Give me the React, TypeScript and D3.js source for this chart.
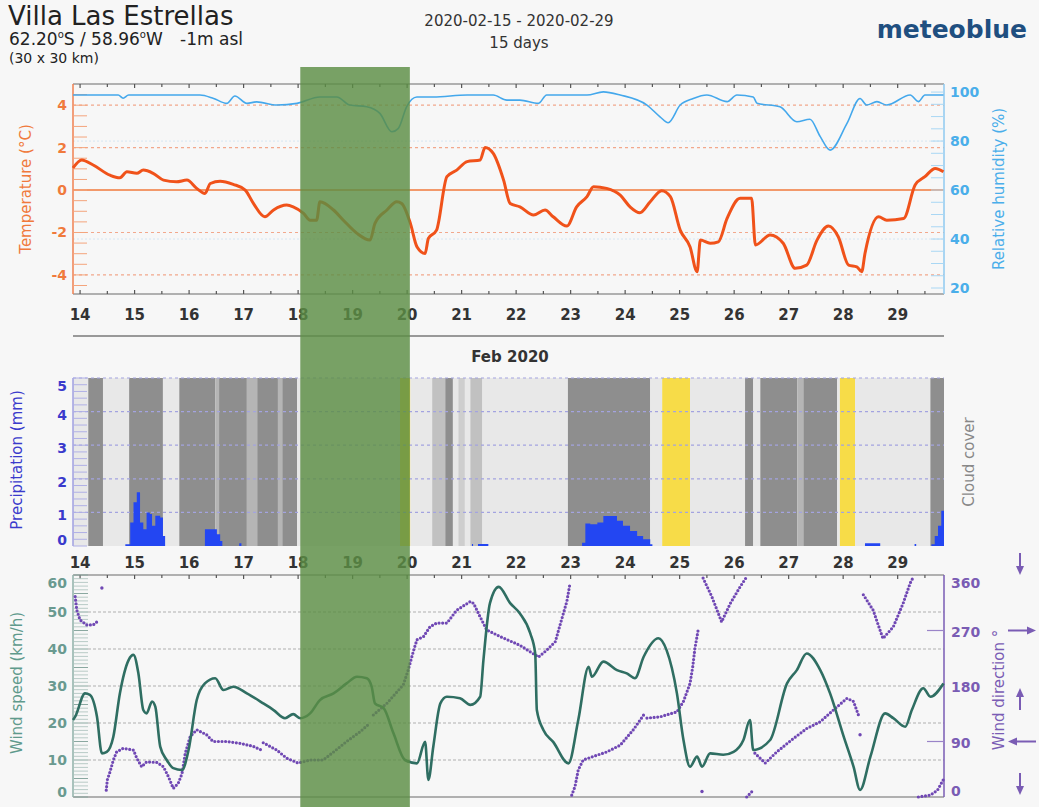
import React from 'react';
import * as d3 from 'd3';

// days of Feb 2020 (fractional)
const dayLabels = d3.range(14, 30);
const xDomain = [13.87, 29.85];

const tempDays = [13.87, 14.03, 14.24, 14.55, 14.73, 14.86, 15.04, 15.16, 15.34, 15.53, 15.77, 15.96, 16.14, 16.29, 16.39, 16.57, 16.81, 17.03, 17.18, 17.39, 17.55, 17.79, 17.91, 18.1, 18.22, 18.34, 18.4, 18.65, 18.83, 19.08, 19.32, 19.41, 19.63, 19.81, 19.9, 20.06, 20.18, 20.33, 20.39, 20.54, 20.73, 20.91, 21.1, 21.34, 21.43, 21.58, 21.77, 21.89, 22.07, 22.32, 22.53, 22.68, 22.93, 23.11, 23.3, 23.42, 23.66, 23.91, 24.09, 24.27, 24.46, 24.67, 24.83, 25.01, 25.19, 25.32, 25.38, 25.56, 25.71, 25.87, 26.11, 26.32, 26.39, 26.66, 26.9, 27.12, 27.33, 27.52, 27.73, 27.91, 28.1, 28.25, 28.34, 28.4, 28.65, 28.8, 29.11, 29.32, 29.5, 29.69, 29.84];
const tempC = [1.04, 1.42, 1.18, 0.7, 0.58, 0.86, 0.79, 0.94, 0.79, 0.47, 0.39, 0.47, 0.08, -0.16, 0.31, 0.42, 0.27, 0, -0.63, -1.26, -0.94, -0.71, -0.79, -1.1, -1.42, -1.42, -0.55, -0.94, -1.42, -2.04, -2.36, -1.57, -0.94, -0.55, -0.63, -1.57, -2.67, -2.99, -2.28, -1.89, 0.63, 0.94, 1.34, 1.42, 2.01, 1.73, 0.47, -0.63, -0.79, -1.18, -0.94, -1.26, -1.7, -0.79, -0.31, 0.16, 0.08, -0.24, -0.79, -1.07, -0.55, -0.03, -0.31, -1.89, -2.67, -3.85, -2.36, -2.51, -2.44, -1.34, -0.39, -0.39, -2.59, -2.12, -2.51, -3.69, -3.54, -2.36, -1.7, -2.2, -3.54, -3.62, -3.85, -2.99, -1.26, -1.42, -1.34, 0.24, 0.63, 1.02, 0.86];

const humDays = [13.87, 14.06, 14.7, 14.79, 14.89, 16.2, 16.45, 16.69, 16.84, 17.06, 17.24, 17.61, 17.98, 18.4, 18.71, 18.95, 19.26, 19.5, 19.72, 19.84, 19.99, 20.18, 20.48, 21.1, 21.58, 21.83, 22.07, 22.41, 22.56, 23.3, 23.6, 23.91, 24.4, 24.64, 24.79, 25.01, 25.25, 25.5, 25.87, 26.05, 26.35, 26.42, 26.84, 27.15, 27.39, 27.58, 27.76, 28.07, 28.31, 28.43, 28.62, 28.8, 29.23, 29.38, 29.5, 29.84];
const humPct = [98.8, 98.8, 98.8, 97.5, 98.8, 98.8, 97.4, 95.4, 98.4, 95.4, 96, 94.7, 95.4, 98, 98, 94.7, 94, 91.3, 83.8, 85.2, 94, 98, 98, 98.8, 98.8, 96.7, 96.7, 95.4, 98.8, 98.8, 100.1, 98.8, 94.7, 89.9, 87.5, 94.7, 97.4, 98.8, 96.1, 98.8, 98, 95.4, 94, 87.9, 88.9, 81.8, 76.3, 87.2, 97.4, 94.7, 96.1, 94.7, 98.8, 96.1, 98.8, 98.8];

const precipDays = [14.8, 14.83, 14.92, 14.98, 15.04, 15.1, 15.16, 15.22, 15.28, 15.32, 15.38, 15.47, 15.52, 15.56, 16.29, 16.44, 16.51, 16.57, 16.61, 16.92, 16.96, 21.19, 21.21, 21.3, 21.49, 23.21, 23.27, 23.36, 23.49, 23.6, 23.72, 23.85, 23.96, 24.09, 24.22, 24.33, 24.46, 24.5, 28.4, 28.68, 29.31, 29.34, 29.62, 29.68, 29.74, 29.8, 29.85];
const precipMm = [0, 0.05, 0.7, 1.3, 1.6, 0.7, 0.5, 1.0, 0.95, 0.6, 0.9, 0.85, 0.3, 0, 0.5, 0.5, 0.35, 0.15, 0, 0.08, 0, 0.06, 0, 0.06, 0, 0.1, 0.67, 0.65, 0.7, 0.89, 0.89, 0.75, 0.6, 0.45, 0.3, 0.2, 0.05, 0, 0.08, 0, 0.06, 0, 0.05, 0.3, 0.6, 1.05, 1.1];

// cloud cover bands (0 = sunny)
const cloudStart = [13.87, 14.15, 14.42, 14.9, 15.52, 15.82, 16.48, 16.55, 17.06, 17.25, 17.63, 17.71, 17.98, 19.87, 20.06, 20.46, 20.7, 20.84, 20.94, 21.06, 21.16, 21.38, 22.95, 24.46, 24.68, 25.19, 26.2, 26.35, 26.48, 27.16, 27.27, 27.89, 27.94, 28.22, 29.6];
const cloudEnd = [14.15, 14.42, 14.9, 15.52, 15.82, 16.48, 16.55, 17.06, 17.25, 17.63, 17.71, 17.98, 19.87, 20.06, 20.46, 20.7, 20.84, 20.94, 21.06, 21.16, 21.38, 22.95, 24.46, 24.68, 25.19, 26.2, 26.35, 26.48, 27.16, 27.27, 27.89, 27.94, 28.22, 29.6, 29.85];
const cloudPct = [30, 100, 30, 100, 30, 100, 70, 100, 70, 100, 70, 100, 30, 0, 30, 60, 100, 30, 50, 30, 60, 30, 100, 30, 0, 30, 100, 30, 100, 70, 100, 30, 0, 30, 100];

const speedDays = [13.87, 13.91, 14.09, 14.18, 14.31, 14.4, 14.49, 14.61, 14.73, 14.89, 14.98, 15.07, 15.16, 15.22, 15.32, 15.38, 15.47, 15.59, 15.71, 15.87, 15.99, 16.14, 16.29, 16.48, 16.63, 16.81, 17.06, 17.36, 17.55, 17.76, 17.91, 18.04, 18.22, 18.4, 18.65, 18.89, 19.08, 19.26, 19.35, 19.41, 19.57, 19.75, 19.96, 20.18, 20.33, 20.39, 20.48, 20.61, 20.73, 20.97, 21.16, 21.34, 21.4, 21.52, 21.68, 21.89, 22.07, 22.26, 22.35, 22.38, 22.5, 22.68, 22.96, 23.14, 23.33, 23.39, 23.6, 23.85, 24.03, 24.18, 24.34, 24.61, 24.76, 24.95, 25.07, 25.19, 25.32, 25.41, 25.56, 25.8, 25.99, 26.17, 26.29, 26.35, 26.66, 26.97, 27.15, 27.33, 27.58, 27.76, 28.01, 28.19, 28.31, 28.5, 28.77, 28.92, 29.14, 29.26, 29.47, 29.6, 29.84];
const speedKmh = [20.8, 21.7, 28, 27.6, 21.7, 11.8, 12.2, 16.3, 28, 37, 38.4, 33.4, 23.5, 22.6, 25.8, 24.4, 13.6, 10, 7.8, 7.3, 12.7, 26.2, 30.7, 32.1, 28.9, 29.8, 28, 25.3, 23.5, 21.3, 22.4, 21.3, 22.6, 26.2, 28, 30.7, 32.5, 32.1, 29.8, 25.3, 24, 17.2, 10, 9.1, 14.9, 4.6, 13.6, 25.3, 27.1, 26.7, 24.9, 27.1, 37, 52.4, 56.8, 52.4, 49.6, 44.2, 38.8, 23.5, 18.1, 14.9, 9.1, 20.8, 35.2, 32.5, 36.6, 34.3, 33.4, 32.1, 37.9, 42.9, 39.7, 28, 15.4, 8.2, 10.9, 8.2, 11.8, 11.4, 12.2, 15.4, 20.8, 12.7, 15.4, 30.7, 34.3, 38.8, 34.3, 28, 16.3, 8.2, 1.9, 10.9, 22.6, 21.3, 19, 23.5, 29.4, 27.1, 30.7];

// wind direction, null = break in the dotted trace
const dirDays = [13.91, 13.94, 14.0, 14.12, 14.24, 14.35, null,
  14.48, 14.5, 14.55, 14.61, 14.67, 14.79, 14.98, 15.04, 15.13, 15.22, 15.41, 15.53, 15.62, 15.71, 15.8, 15.87, 15.93, 16.02, 16.14, 16.32, 16.44, 16.69, 16.94, 17.18, 17.33, null,
  17.36, 17.61, 17.79, 18.0, 18.22, 18.46, 18.65, 18.89, 19.14, 19.32, null,
  19.38, 19.63, 19.93, 20.02, 20.12, 20.18, 20.3, 20.42, 20.54, 20.73, 20.91, 21.16, 21.22, 21.34, 21.46, 21.71, 22.07, 22.41, 22.56, 22.72, 22.78, 22.93, 22.99, null,
  23.02, 23.08, 23.14, 23.23, 23.39, 23.66, 23.91, 24.15, 24.34, null,
  24.4, 24.64, 24.95, 25.07, 25.19, 25.24, 25.28, 25.34, null,
  25.43, 25.59, 25.77, 25.93, 26.11, 26.23, null,
  26.23, 26.35, null,
  26.38, 26.57, 26.78, 27.09, 27.33, 27.58, 27.82, 28.07, 28.19, 28.28, null,
  28.37, 28.55, 28.73, 28.92, 29.1, 29.23, 29.29, null,
  29.38, 29.6, 29.73, 29.85];
const dirDeg = [325, 303, 287, 279, 279, 287, null,
  11, 28, 41, 60, 73, 79, 76, 63, 49, 57, 56, 49, 33, 14, 22, 38, 71, 98, 109, 101, 90, 90, 87, 82, 76, null,
  88, 76, 63, 55, 60, 60, 73, 90, 106, 120, null,
  133, 152, 182, 206, 238, 255, 260, 276, 282, 282, 303, 317, 314, 292, 271, 260, 246, 227, 238, 252, 271, 317, 347, null,
  3, 17, 44, 60, 65, 73, 84, 109, 133, null,
  128, 130, 138, 155, 184, 211, 241, 271, null,
  355, 325, 284, 314, 341, 357, null,
  0, 11, null,
  71, 55, 73, 95, 111, 122, 141, 160, 155, 133, null,
  328, 303, 257, 276, 314, 347, 357, null,
  0, 3, 11, 30];
const dirDotDays = [14.4, 25.41, 28.31];
const dirDotDeg = [339, 9, 101];

const compassDeg = [360, 270, 180, 90, 0];
const highlight = [18.04, 20.05];

const FONT = 'DejaVu Sans, sans-serif';

const App: React.FC = () => {
  const x = d3.scaleLinear().domain(xDomain).range([73, 944]);
  const yTemp = d3.scaleLinear().domain([-4.9, 5.0]).range([294, 84]);
  const yHum = d3.scaleLinear().domain([17.55, 103.3]).range([294, 84]);
  const yPrec = d3.scaleLinear().domain([0, 5]).range([546, 378]);
  const ySpeed = d3.scaleLinear().domain([0, 60]).range([797, 575]);
  const yDir = d3.scaleLinear().domain([0, 360]).range([797, 575]);
  const cloudGray = d3.scaleLinear<string>().domain([30, 100]).range(['#e8e8e8', '#8e8e8e']);

  const tempPath = d3.line<number>()
    .x((d, i) => x(tempDays[i])).y((d) => yTemp(d))
    .curve(d3.curveMonotoneX)(tempC) || '';
  const humPath = d3.line<number>()
    .x((d, i) => x(humDays[i])).y((d) => yHum(d))
    .curve(d3.curveMonotoneX)(humPct) || '';
  const precPath = d3.area<number>()
    .x((d, i) => x(precipDays[i])).y0(yPrec(0)).y1((d) => yPrec(d))
    .curve(d3.curveStepAfter)(precipMm) || '';
  const speedPath = d3.line<number>()
    .x((d, i) => x(speedDays[i])).y((d) => ySpeed(d))
    .curve(d3.curveMonotoneX)(speedKmh) || '';
  const dirPath = d3.line<number | null>()
    .defined((d) => d !== null)
    .x((d, i) => x(dirDays[i] as number)).y((d) => yDir(d as number))(dirDeg) || '';

  const halfDays = d3.range(14, 30, 0.5).filter((d) => d > xDomain[0] && d < xDomain[1]);
  const frameTicks = (y: number, dir: number) =>
    halfDays.map((d) => (
      <line key={`${y}-${d}`} x1={x(d)} x2={x(d)} y1={y} y2={y + dir * (d % 1 === 0 ? 4 : 3)} stroke="#555" strokeWidth={1.2} />
    ));

  const dayText = (y: number) =>
    dayLabels.map((d) => (
      <text key={`${y}-${d}`} x={x(d)} y={y} textAnchor="middle" fontSize={15} fontWeight="bold" fill="#333">{d}</text>
    ));

  return (
    <svg width={1039} height={807} style={{ position: 'absolute', left: 0, top: 0, background: '#f7f7f7' }} fontFamily={FONT}>
      {/* header */}
      <text x={8} y={25} fontSize={26} fill="#222">Villa Las Estrellas</text>
      <text x={9} y={45} fontSize={17} fill="#222">
        62.20<tspan fontSize={10} dy={-7}>o</tspan><tspan dy={7}>S / 58.96</tspan><tspan fontSize={10} dy={-7}>o</tspan><tspan dy={7}>W</tspan><tspan dx={18}>-1m asl</tspan>
      </text>
      <text x={9} y={63} fontSize={14} fill="#222">(30 x 30 km)</text>
      <text x={519} y={26} fontSize={15} textAnchor="middle" fill="#333">2020-02-15 - 2020-02-29</text>
      <text x={519} y={48} fontSize={15} textAnchor="middle" fill="#333">15 days</text>
      <text x={1027} y={38} fontSize={25} fontWeight="bold" textAnchor="end" fill="#1f4f80">meteoblue</text>

      {/* ---- temperature / humidity ---- */}
      {[4, 2, -2, -4].map((t) => (
        <line key={t} x1={73} x2={944} y1={yTemp(t)} y2={yTemp(t)} stroke="#f2a88c" strokeWidth={1.2} strokeDasharray="3 3" />
      ))}
      {[80, 40].map((h) => (
        <line key={h} x1={73} x2={944} y1={yHum(h)} y2={yHum(h)} stroke="#d6e6f2" strokeWidth={1} strokeDasharray="2 2" />
      ))}
      <line x1={73} x2={944} y1={yTemp(0)} y2={yTemp(0)} stroke="#f07a3c" strokeWidth={1.5} />
      <line x1={73} x2={944} y1={84} y2={84} stroke="#999" strokeWidth={1.5} />
      <line x1={73} x2={944} y1={294} y2={294} stroke="#999" strokeWidth={1.5} />
      {frameTicks(84, 1)}
      {frameTicks(294, -1)}
      <line x1={73} x2={73} y1={84} y2={294} stroke="#f08050" strokeWidth={1.5} />
      {d3.range(-4.5, 5, 0.5).map((t) => (
        <line key={t} x1={73} x2={87} y1={yTemp(t)} y2={yTemp(t)} stroke="#f4a47c" strokeWidth={1} />
      ))}
      {[4, 2, 0, -2, -4].map((t) => (
        <text key={t} x={67} y={yTemp(t) + 5} textAnchor="end" fontSize={14} fontWeight="bold" fill="#f07a3c">{t}</text>
      ))}
      <line x1={944} x2={944} y1={84} y2={294} stroke="#8fcaf0" strokeWidth={1.5} />
      {d3.range(20, 101, 5).map((h) => (
        <line key={h} x1={931} x2={944} y1={yHum(h)} y2={yHum(h)} stroke="#a9d7f4" strokeWidth={1} />
      ))}
      {[100, 80, 60, 40, 20].map((h) => (
        <text key={h} x={950} y={yHum(h) + 5} fontSize={14} fontWeight="bold" fill="#4aaeea">{h}</text>
      ))}
      <text transform={`translate(31,${189}) rotate(-90)`} textAnchor="middle" fontSize={15} fill="#f07a3c">Temperature (°C)</text>
      <text transform={`translate(1004,${189}) rotate(-90)`} textAnchor="middle" fontSize={15} fill="#4aaeea">Relative humidity (%)</text>
      <path d={humPath} fill="none" stroke="#44a8ec" strokeWidth={1.6} />
      <path d={tempPath} fill="none" stroke="#f0521a" strokeWidth={3} strokeLinejoin="round" />
      {dayText(320)}

      <line x1={73} x2={944} y1={336} y2={336} stroke="#999" strokeWidth={2} />
      <text x={510} y={362} textAnchor="middle" fontSize={15} fontWeight="bold" fill="#333">Feb 2020</text>

      {/* ---- cloud cover / precipitation ---- */}
      {cloudStart.map((s, i) => (
        <rect key={s} x={x(s)} y={378} width={x(cloudEnd[i]) - x(s)} height={546 - 378}
          fill={cloudPct[i] === 0 ? '#f7dc48' : cloudGray(cloudPct[i])} />
      ))}
      {[1, 2, 3, 4, 5].map((p) => (
        <line key={p} x1={73} x2={944} y1={yPrec(p)} y2={yPrec(p)} stroke="#a3a3e0" strokeWidth={1.2} strokeDasharray="3 3" />
      ))}
      <path d={precPath} fill="#2346f2" />
      <line x1={73} x2={73} y1={378} y2={546} stroke="#a0a0e0" strokeWidth={1.5} />
      {d3.range(0, 5.01, 0.2).map((p) => (
        <line key={p} x1={73} x2={87} y1={yPrec(p)} y2={yPrec(p)} stroke="#b0b0e6" strokeWidth={1} />
      ))}
      {[5, 4, 3, 2, 1, 0].map((p) => (
        <text key={p} x={67} y={yPrec(p) + (p === 5 ? 13 : p === 0 ? -1 : 8)} textAnchor="end" fontSize={14} fontWeight="bold" fill="#3a3acc">{p}</text>
      ))}
      <text transform={`translate(22,${460}) rotate(-90)`} textAnchor="middle" fontSize={15} fill="#3a3acc">Precipitation (mm)</text>
      <text transform={`translate(974,${462}) rotate(-90)`} textAnchor="middle" fontSize={15} fill="#888">Cloud cover</text>
      {dayText(568)}

      {/* ---- wind ---- */}
      {[10, 20, 30, 40, 50].map((s) => (
        <line key={s} x1={88} x2={944} y1={ySpeed(s)} y2={ySpeed(s)} stroke="#b0b0b0" strokeWidth={1.2} strokeDasharray="3 2" />
      ))}
      <line x1={73} x2={944} y1={575} y2={575} stroke="#999" strokeWidth={1.5} />
      <line x1={73} x2={944} y1={797} y2={797} stroke="#999" strokeWidth={1.5} />
      {frameTicks(575, 1)}
      <line x1={73} x2={73} y1={575} y2={797} stroke="#8fb0a8" strokeWidth={1.5} />
      {d3.range(0, 60.1, 1).map((s) => (
        <line key={s} x1={74} x2={88} y1={ySpeed(s)} y2={ySpeed(s)} stroke={s % 5 === 0 ? '#8aa8a0' : '#b8cac6'} strokeWidth={1} />
      ))}
      {[60, 50, 40, 30, 20, 10, 0].map((s) => (
        <text key={s} x={67} y={ySpeed(s) + (s === 60 ? 13 : s === 0 ? 0 : 5)} textAnchor="end" fontSize={14} fontWeight="bold" fill="#6a9a90">{s}</text>
      ))}
      <text transform={`translate(22,${683}) rotate(-90)`} textAnchor="middle" fontSize={15} fill="#5f9a8c">Wind speed (km/h)</text>
      <line x1={944} x2={944} y1={575} y2={797} stroke="#7a5cb4" strokeWidth={1.5} />
      {[270, 90].map((d) => (
        <line key={d} x1={927} x2={944} y1={yDir(d)} y2={yDir(d)} stroke="#9a84c8" strokeWidth={1.2} />
      ))}
      {[360, 270, 180, 90, 0].map((d) => (
        <text key={d} x={951} y={yDir(d) + (d === 360 ? 13 : d === 0 ? -1 : 6)} fontSize={14} fontWeight="bold" fill="#7a5cb4">{d}</text>
      ))}
      <text transform={`translate(1004,${690}) rotate(-90)`} textAnchor="middle" fontSize={15} fill="#7a5cb4">Wind direction °</text>
      {compassDeg.map((d) => {
        const a = ((d + 180) * Math.PI) / 180;
        const vx = Math.sin(a);
        const vy = -Math.cos(a);
        const horiz = Math.abs(vx) > 0.5;
        const len = horiz ? 28 : 22;
        const tipX = horiz ? 1022 + (vx * len) / 2 : 1020;
        const tipY = horiz ? yDir(d) : d === 180 ? yDir(d) + 2 : yDir(d) - (d === 360 ? 0 : 2);
        const sx = tipX - vx * len;
        const sy = tipY - vy * len;
        const px = -vy;
        const py = vx;
        return (
          <g key={d}>
            <line x1={sx} y1={sy} x2={tipX - vx * 6} y2={tipY - vy * 6} stroke="#7a5cb4" strokeWidth={2} />
            <polygon
              points={`${tipX},${tipY} ${tipX - vx * 9 + px * 4},${tipY - vy * 9 + py * 4} ${tipX - vx * 9 - px * 4},${tipY - vy * 9 - py * 4}`}
              fill="#7a5cb4" />
          </g>
        );
      })}
      <path d={dirPath} fill="none" stroke="#7048b4" strokeWidth={3.2} strokeLinecap="round" strokeDasharray="0 3.6" />
      {dirDotDays.map((d, i) => (
        <circle key={d} cx={x(d)} cy={yDir(dirDotDeg[i])} r={1.7} fill="#7048b4" />
      ))}
      <path d={speedPath} fill="none" stroke="#2f6e62" strokeWidth={2.6} strokeLinejoin="round" />

      {/* highlighted period */}
      <rect x={x(highlight[0])} y={67} width={x(highlight[1]) - x(highlight[0])} height={740} fill="#5c8d44" fillOpacity={0.82} />
    </svg>
  );
};

export default App;
